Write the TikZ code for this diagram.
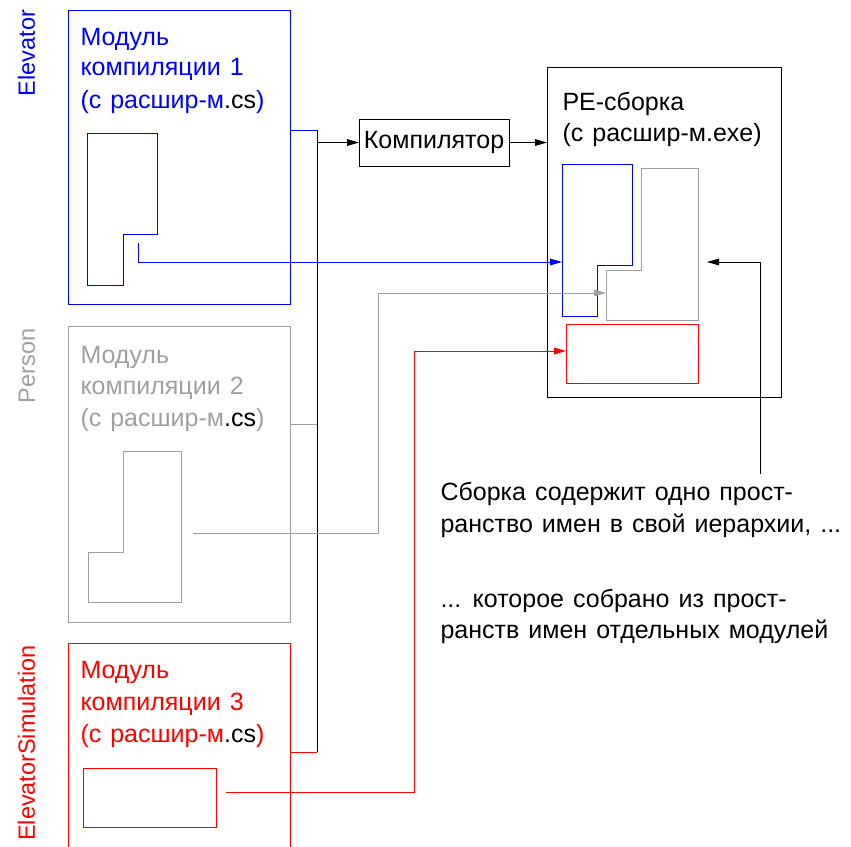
\documentclass[tikz,border=0pt]{standalone}
\usepackage{fontspec}
\setmainfont{Liberation Sans}[WordSpace=1.3]
\usetikzlibrary{arrows.meta}
\definecolor{myblue}{RGB}{0,0,255}
\definecolor{mygray}{RGB}{160,160,160}
\definecolor{myred}{RGB}{255,0,0}
\begin{document}
\begin{tikzpicture}[x=0.75pt,y=-0.75pt,line width=0.75pt,
  arr/.style={-{Triangle[length=9pt,width=5pt]}},
  txt/.style={font=\fontsize{18.75}{22}\selectfont,anchor=base west,inner sep=0pt},
  lbl/.style={font=\fontsize{17.6}{21}\selectfont,rotate=90,anchor=base,inner sep=0pt},
  box/.style={draw,inner sep=0pt,outer sep=0pt,anchor=north west}]
\useasboundingbox (0,0) rectangle (851,847);

% module boxes
\node[box,myblue,minimum width=166.5pt,minimum height=220.5pt] (box1) at (68,10) {};
\node[box,mygray,minimum width=166.5pt,minimum height=222pt] (box2) at (68,326) {};
\node[box,myred,minimum width=166.5pt,minimum height=155.25pt] (box3) at (68,643) {};

% side labels
\node[lbl,myblue] (l1) at (35,53) {Elevator};
\node[lbl,mygray] (l2) at (35,366) {Person};
\node[lbl,myred] (l3) at (35,743) {ElevatorSimulation};

% box texts
\node[txt,myblue] (t11) at (80,45) {Модуль};
\node[txt,myblue] (t12) at (80,75) {компиляции 1};
\node[txt,myblue] (t13) at (80,108) {(с расшир-м{\color{black}.cs})};
\node[txt,mygray] (t21) at (80,363) {Модуль};
\node[txt,mygray] (t22) at (80,394) {компиляции 2};
\node[txt,mygray] (t23) at (80,426) {(с расшир-м{\color{black}.cs})};
\node[txt,myred] (t31) at (80,678) {Модуль};
\node[txt,myred] (t32) at (80,710) {компиляции 3};
\node[txt,myred] (t33) at (80,742) {(с расшир-м{\color{black}.cs})};

% inner shapes of modules
\draw[myblue] (87,133) -- (157,133) -- (157,234) -- (123,234) -- (123,285) -- (87,285) -- cycle;
\draw[mygray] (123,451) -- (181,451) -- (181,602) -- (88,602) -- (88,552) -- (123,552) -- cycle;
\draw[myred] (83,768) rectangle (216,827);

% compiler and PE assembly
\node[box,minimum width=112.5pt,minimum height=35.25pt,font=\fontsize{18.75}{22}\selectfont] (comp) at (359,119) {Компилятор};
\node[box,minimum width=175.5pt,minimum height=247.5pt] (pe) at (547,67) {};
\node[txt] (pt1) at (562,110) {PE-сборка};
\node[txt] (pt2) at (562,141) {(с расшир-м.exe)};

\draw[myblue] (562,164) -- (632,164) -- (632,265) -- (597,265) -- (597,316) -- (562,316) -- cycle;
\draw[mygray] (641,168) -- (698,168) -- (698,320) -- (606,320) -- (606,270) -- (641,270) -- cycle;
\draw[myred] (566,324) rectangle (698,383);

% note text
\node[txt] (n1) at (440,500) {Сборка содержит одно прост-};
\node[txt] (n2) at (440,532) {ранство имен в свой иерархии, ...};
\node[txt] (n3) at (440,607) {... которое собрано из прост-};
\node[txt] (n4) at (440,638) {ранств имен отдельных модулей};

% coordinates
\coordinate (bus1) at (317,130);
\coordinate (bus3) at (317,752);
\coordinate (b1s) at (138,243);
\coordinate (b1t) at (562,262);
\coordinate (g1s) at (193,533);
\coordinate (g1k) at (378,293);
\coordinate (g1t) at (606,293);
\coordinate (r1s) at (226,792);
\coordinate (r1k) at (414,351);
\coordinate (r1t) at (566,351);
\coordinate (ns) at (760,474);
\coordinate (nt) at (707,262);

% bus
\draw[myblue] (box1.east |- bus1) -- (bus1);
\draw[mygray] (box2.east |- 0,424) -- (317,424);
\draw[myred] (box3.east |- bus3) -- (bus3);
\draw (bus1) -- (bus3);
\draw[arr] (comp.west -| bus1) -- (comp.west);
\draw[arr] (comp.east) -- (comp.east -| pe.west);

% namespace arrows
\draw[myblue,arr] (b1s) |- (b1t);
\draw[mygray,arr] (g1s) -| (g1k) -- (g1t);
\draw[myred,arr] (r1s) -| (r1k) -- (r1t);
\draw[arr] (ns) |- (nt);
\end{tikzpicture}
\end{document}
